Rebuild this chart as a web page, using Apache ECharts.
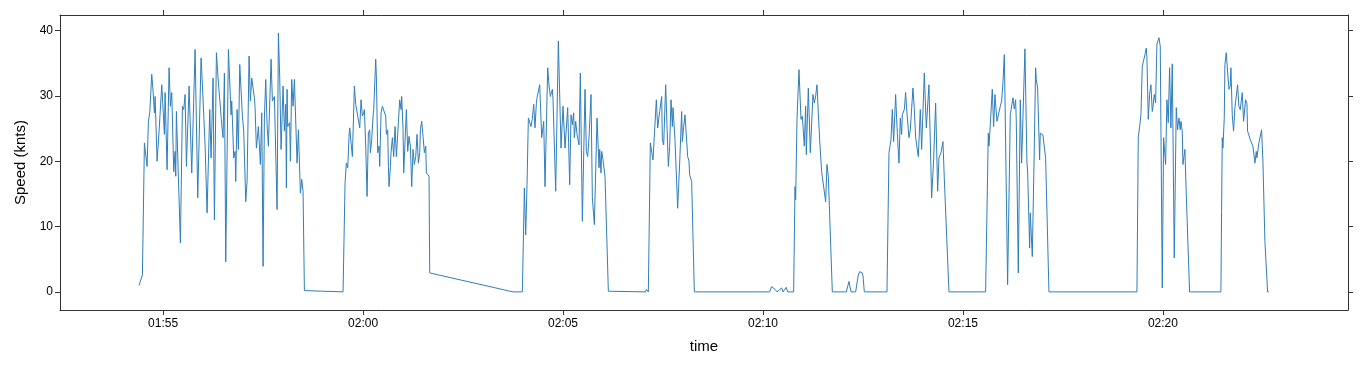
<!DOCTYPE html>
<html lang="en">
<head>
    <meta charset="UTF-8">
    <title>Speed</title>
    <script src="https://cdn.jsdelivr.net/npm/echarts@6/dist/echarts.min.js"></script>
    <style>
        html, body { margin: 0; padding: 0; background: #fff; }
        #chart { width: 1368px; height: 371px; }
    </style>
</head>
<body>
<div id="chart"></div>
<script>
    // time of each sample (hh:mm:ss) and the speed in knots
    var times = [
        // run 1
        '01:54:24','01:54:27','01:54:29','01:54:32','01:54:34','01:54:36','01:54:38','01:54:40','01:54:41','01:54:43',
        '01:54:45','01:54:47','01:54:48','01:54:51','01:54:54','01:54:58','01:55:02','01:55:03','01:55:06','01:55:09',
        '01:55:11','01:55:13','01:55:16','01:55:18','01:55:19','01:55:20','01:55:22','01:55:26','01:55:29','01:55:31',
        '01:55:33','01:55:35','01:55:39','01:55:43','01:55:48','01:55:52','01:55:57','01:55:59','01:56:03','01:56:06',
        '01:56:10','01:56:12','01:56:15','01:56:17','01:56:20','01:56:23','01:56:25','01:56:28','01:56:30','01:56:32',
        '01:56:34','01:56:38','01:56:42','01:56:43','01:56:46','01:56:48','01:56:49','01:56:51','01:56:53','01:56:55',
        '01:56:59','01:57:01','01:57:04','01:57:06','01:57:09','01:57:11','01:57:13','01:57:17','01:57:18','01:57:20',
        '01:57:23','01:57:26','01:57:28','01:57:30','01:57:32','01:57:34','01:57:36','01:57:38','01:57:42','01:57:44',
        '01:57:47','01:57:51','01:57:53','01:57:55','01:57:57','01:58:00','01:58:02','01:58:04','01:58:05','01:58:06',
        '01:58:07','01:58:10','01:58:11','01:58:13','01:58:15','01:58:17','01:58:21','01:58:23','01:58:26','01:58:28',
        '01:58:30','01:58:32','01:59:30',
        // run 2
        '01:59:33','01:59:35','01:59:37','01:59:39','01:59:40','01:59:42','01:59:44','01:59:47','01:59:49','01:59:52',
        '01:59:55','01:59:57','01:59:59','02:00:01','02:00:02','02:00:04','02:00:06','02:00:08','02:00:10','02:00:11',
        '02:00:13','02:00:15','02:00:16','02:00:19','02:00:20','02:00:22','02:00:24','02:00:25','02:00:27','02:00:29',
        '02:00:31','02:00:34','02:00:35','02:00:37','02:00:38','02:00:39','02:00:41','02:00:42','02:00:44','02:00:46',
        '02:00:48','02:00:50','02:00:53','02:00:55','02:00:57','02:00:58','02:01:00','02:01:01','02:01:03','02:01:05',
        '02:01:07','02:01:09','02:01:11','02:01:13','02:01:15','02:01:17','02:01:19','02:01:21','02:01:23','02:01:25',
        '02:01:26','02:01:28','02:01:30','02:01:32','02:01:34','02:01:35','02:01:37','02:01:39','02:01:40','02:03:45',
        '02:03:59',
        // run 3
        '02:04:02','02:04:04','02:04:06','02:04:08','02:04:10','02:04:12','02:04:14','02:04:16','02:04:18','02:04:20',
        '02:04:21','02:04:24','02:04:25','02:04:28','02:04:31','02:04:33','02:04:37','02:04:39','02:04:41','02:04:44',
        '02:04:45','02:04:49','02:04:53','02:04:57','02:05:00','02:05:03','02:05:07','02:05:10','02:05:12','02:05:14',
        '02:05:16','02:05:17','02:05:19','02:05:21','02:05:24','02:05:26','02:05:29','02:05:33','02:05:35','02:05:37',
        '02:05:39','02:05:42','02:05:44','02:05:47','02:05:51','02:05:54','02:05:55','02:05:57','02:05:58','02:06:00',
        '02:06:03','02:06:08','02:07:04','02:07:05','02:07:08',
        // run 4
        '02:07:11','02:07:13','02:07:15','02:07:20','02:07:22','02:07:25','02:07:28','02:07:29','02:07:31','02:07:34',
        '02:07:36','02:07:38','02:07:40','02:07:42','02:07:44','02:07:45','02:07:48','02:07:52','02:07:55','02:07:58',
        '02:07:59','02:08:01','02:08:03','02:08:07','02:08:09','02:08:10','02:08:13','02:08:17',
        '02:09:55','02:09:58','02:10:00','02:10:10','02:10:13','02:10:15','02:10:18','02:10:21','02:10:28','02:10:30',
        '02:10:35','02:10:37','02:10:46',
        // run 5
        '02:10:48','02:10:49','02:10:51','02:10:54','02:10:57','02:10:59','02:11:02','02:11:04','02:11:05','02:11:08',
        '02:11:11','02:11:15','02:11:17','02:11:19','02:11:21','02:11:23','02:11:25','02:11:28','02:11:30','02:11:34',
        '02:11:36','02:11:38','02:11:44',
        '02:12:05','02:12:09','02:12:12','02:12:19','02:12:23','02:12:25','02:12:29','02:12:30','02:12:32','02:12:59',
        '02:13:00','02:13:01','02:13:06',
        // run 6
        '02:13:09','02:13:12','02:13:14','02:13:16','02:13:19','02:13:21','02:13:24','02:13:26','02:13:28','02:13:29',
        '02:13:32','02:13:34','02:13:36','02:13:39','02:13:41','02:13:43','02:13:45','02:13:47','02:13:49','02:13:51',
        '02:13:53','02:13:56','02:13:58','02:14:02','02:14:05','02:14:07','02:14:09','02:14:13','02:14:16','02:14:19',
        '02:14:22','02:14:24','02:14:25','02:14:27','02:14:30','02:14:32','02:14:34','02:14:39','02:15:34',
        // run 7
        '02:15:38','02:15:39','02:15:41','02:15:44','02:15:46','02:15:48','02:15:49','02:15:51','02:15:53','02:15:56',
        '02:15:58','02:16:00','02:16:02','02:16:03','02:16:07','02:16:11','02:16:13','02:16:15','02:16:17','02:16:19',
        '02:16:20','02:16:23','02:16:26','02:16:28','02:16:33','02:16:36','02:16:37','02:16:40','02:16:41','02:16:44',
        '02:16:47','02:16:49','02:16:50','02:16:52','02:16:55','02:16:56','02:16:59','02:17:00','02:17:04','02:17:09',
        '02:19:21',
        // run 8
        '02:19:23','02:19:25','02:19:27','02:19:29','02:19:31','02:19:33','02:19:35','02:19:36','02:19:38','02:19:40',
        '02:19:42','02:19:44','02:19:45','02:19:47','02:19:49','02:19:51','02:19:52','02:19:54','02:19:56','02:19:59',
        '02:20:01','02:20:04','02:20:06','02:20:08','02:20:10','02:20:12','02:20:14','02:20:17','02:20:20','02:20:22',
        '02:20:24','02:20:26','02:20:27','02:20:29','02:20:30','02:20:33','02:20:35','02:20:40','02:21:27',
        // run 9
        '02:21:28','02:21:29','02:21:30','02:21:32','02:21:33','02:21:35','02:21:37','02:21:39','02:21:41','02:21:42',
        '02:21:44','02:21:46','02:21:48','02:21:50','02:21:52','02:21:54','02:21:56','02:21:59','02:22:01','02:22:04',
        '02:22:06','02:22:07','02:22:09','02:22:11','02:22:13','02:22:15','02:22:18','02:22:20','02:22:21','02:22:24',
        '02:22:26','02:22:28','02:22:30','02:22:33','02:22:37','02:22:39'
    ];

    var speeds = [
        // run 1
        1.0, 0.8, 2.6, 22.8, 22.5, 19.2, 26.1, 27.4, 27.1, 33.3,
        30.7, 27.4, 29.9, 20.0, 24.6, 31.7, 24.1, 30.5, 18.7, 34.3,
        28.4, 30.5, 18.4, 21.5, 17.7, 27.6, 20.7, 7.5, 28.4, 27.9,
        30.2, 19.2, 31.5, 18.2, 37.1, 14.4, 35.8, 31.7, 22.5, 12.1,
        27.9, 20.5, 32.7, 11.0, 36.6, 32.0, 31.7, 25.6, 23.6, 33.5,
        4.6, 37.1, 27.1, 29.2, 20.5, 21.5, 16.9, 27.9, 21.8, 34.8,
        26.9, 24.6, 13.8, 16.9, 36.1, 29.2, 32.7, 29.7, 28.2, 22.0,
        25.3, 19.5, 27.4, 3.9, 26.6, 32.5, 25.6, 22.3, 35.6, 29.2,
        29.9, 12.6, 39.6, 32.7, 21.8, 31.5, 24.6, 28.7, 15.9, 31.0,
        25.3, 25.9, 20.0, 32.5, 28.4, 32.5, 19.7, 24.8, 15.1, 17.2,
        15.4, 0.2, 0.0,
        // run 2
        16.7, 19.7, 19.0, 23.8, 25.1, 22.8, 20.7, 31.5, 28.7, 26.9,
        25.1, 29.4, 26.9, 27.4, 27.9, 22.3, 14.6, 24.3, 24.8, 21.3,
        23.3, 26.9, 27.9, 35.6, 33.0, 21.3, 22.3, 19.2, 27.4, 28.4,
        28.2, 26.9, 24.1, 24.8, 19.2, 16.1, 19.2, 21.3, 23.6, 20.7,
        25.3, 20.7, 25.9, 29.4, 27.9, 29.9, 24.8, 18.2, 23.0, 27.9,
        21.5, 23.8, 22.3, 16.1, 21.8, 19.5, 20.7, 24.1, 19.7, 21.3,
        24.8, 26.1, 23.8, 21.3, 22.3, 18.2, 18.2, 17.7, 2.9, 0.0,
        0.0,
        // run 3
        15.9, 8.7, 16.4, 26.6, 26.9, 25.3, 26.6, 28.7, 25.1, 28.9,
        29.7, 29.9, 31.7, 23.6, 26.1, 16.1, 34.3, 31.5, 29.9, 31.0,
        29.4, 15.4, 38.4, 22.0, 28.4, 22.0, 28.2, 16.4, 27.1, 25.6,
        27.4, 23.6, 26.1, 24.1, 22.5, 33.5, 10.8, 31.0, 21.5, 20.7,
        23.6, 30.2, 14.4, 10.3, 26.6, 19.0, 21.8, 18.2, 21.5, 20.2,
        17.7, 0.1, 0.0, 0.4, 0.0,
        // run 4
        22.8, 23.0, 20.2, 29.4, 25.1, 27.6, 29.9, 23.3, 22.5, 31.7,
        25.3, 19.2, 22.3, 29.4, 25.3, 28.2, 23.3, 12.8, 19.7, 27.6,
        23.0, 25.3, 27.1, 20.7, 20.0, 17.9, 16.9, 0.0,
        0.0, 0.3, 0.0, 0.0, 0.8, 0.9, 0.4, 0.0, 0.6, 0.0,
        0.7, 0.0, 0.0,
        // run 5
        16.1, 14.1, 26.4, 34.0, 26.4, 26.9, 22.3, 28.4, 21.0, 31.2,
        21.3, 30.2, 28.9, 30.0, 31.7, 27.4, 23.3, 18.4, 18.2, 13.8,
        19.5, 17.7, 0.0,
        0.0, 1.6, 0.0, 0.0, 2.6, 3.1, 2.9, 2.5, 0.0, 0.0,
        0.15, 0.0, 0.0,
        // run 6
        21.3, 23.3, 27.9, 23.0, 30.2, 25.3, 19.7, 26.6, 24.1, 27.1,
        27.9, 30.5, 27.4, 23.6, 24.8, 25.0, 31.2, 28.0, 23.6, 23.6,
        20.7, 27.9, 21.8, 33.5, 25.1, 25.3, 31.7, 14.4, 20.2, 28.9,
        15.4, 20.5, 20.6, 21.3, 23.0, 17.4, 17.2, 0.0, 0.0,
        // run 7
        24.3, 22.3, 25.6, 31.0, 25.3, 30.2, 28.8, 26.1, 26.3, 28.4,
        29.2, 32.0, 36.3, 30.0, 1.1, 27.1, 27.0, 29.7, 28.0, 29.4,
        26.1, 2.9, 29.4, 19.7, 37.2, 19.7, 18.5, 6.7, 12.1, 5.4,
        22.0, 34.3, 32.5, 31.2, 20.2, 24.3, 24.6, 24.0, 20.5, 0.0,
        0.0,
        // run 8
        23.6, 25.3, 27.1, 34.5, 34.8, 36.3, 37.3, 35.8, 26.4, 30.2,
        31.7, 27.6, 28.3, 30.2, 28.9, 37.9, 38.0, 38.9, 37.6, 0.6,
        23.6, 19.5, 29.4, 25.9, 34.3, 25.1, 34.9, 5.2, 28.2, 24.8,
        26.6, 24.8, 26.1, 24.6, 19.5, 21.8, 15.0, 0.0, 0.0,
        // run 9
        12.3, 23.6, 22.0, 26.6, 34.8, 36.6, 36.9, 31.0, 31.5, 34.3,
        27.1, 24.6, 28.2, 28.5, 31.7, 28.4, 27.9, 30.5, 26.1, 29.4,
        28.8, 24.6, 24.8, 23.3, 23.5, 22.3, 19.7, 21.5, 20.5, 22.8,
        22.5, 24.8, 20.0, 7.7, 0.0, 0.0
    ];

    var xTickLabels = ['01:55', '02:00', '02:05', '02:10', '02:15', '02:20'];
    var yTicks = [0, 10, 20, 30, 40];

    if (times.length !== speeds.length) {
        throw new Error('times/speeds length mismatch: ' + times.length + ' vs ' + speeds.length);
    }

    function toSec(str) {
        var p = str.split(':');
        return (+p[0]) * 3600 + (+p[1]) * 60 + (+(p[2] || 0));
    }
    function pad2(n) { return (n < 10 ? '0' : '') + n; }
    function hhmm(v) {
        var h = Math.floor(v / 3600);
        var m = Math.round((v - h * 3600) / 60);
        return pad2(h) + ':' + pad2(m);
    }

    var points = times.map(function (t, i) { return [toSec(t), speeds[i]]; });
    var xTicks = xTickLabels.map(toSec);

    // lattice style padding of the ranges (7%)
    var xs = points.map(function (p) { return p[0]; });
    var x0 = Math.min.apply(null, xs), x1 = Math.max.apply(null, xs);
    var y0 = Math.min.apply(null, speeds), y1 = Math.max.apply(null, speeds);
    var xMin = x0 - 0.07 * (x1 - x0), xMax = x1 + 0.07 * (x1 - x0);
    var yMin = y0 - 0.07 * (y1 - y0), yMax = y1 + 0.07 * (y1 - y0);

    var font = 'Liberation Sans, Arial, sans-serif';
    var frame = { show: true, onZero: false, lineStyle: { color: '#333', width: 1 } };
    var tick = { show: true, inside: false, length: 5, lineStyle: { color: '#333' } };

    var myChart = echarts.init(document.getElementById('chart'));
    myChart.setOption({
        animation: false,
        backgroundColor: '#fff',
        textStyle: { fontFamily: font },
        grid: { left: 60, right: 20, top: 15, bottom: 61, containLabel: false, outerBoundsMode: 'none' },
        xAxis: [{
            type: 'value',
            position: 'bottom',
            min: xMin,
            max: xMax,
            axisLine: frame,
            axisTick: Object.assign({ customValues: xTicks }, tick),
            axisLabel: {
                customValues: xTicks,
                formatter: hhmm,
                color: '#000',
                fontSize: 12,
                fontFamily: font,
                margin: 8
            },
            splitLine: { show: false },
            name: 'time',
            nameLocation: 'middle',
            nameGap: 29,
            nameTextStyle: { color: '#000', fontSize: 15, fontFamily: font }
        }, {
            type: 'value',
            position: 'top',
            min: xMin,
            max: xMax,
            axisLine: frame,
            axisTick: Object.assign({ customValues: xTicks }, tick),
            axisLabel: { show: false },
            splitLine: { show: false }
        }],
        yAxis: [{
            type: 'value',
            position: 'left',
            min: yMin,
            max: yMax,
            axisLine: frame,
            axisTick: Object.assign({ customValues: yTicks }, tick),
            axisLabel: {
                customValues: yTicks,
                color: '#000',
                fontSize: 12,
                fontFamily: font,
                margin: 7
            },
            splitLine: { show: false },
            name: 'Speed (knts)',
            nameLocation: 'middle',
            nameGap: 32,
            nameTextStyle: { color: '#000', fontSize: 15, fontFamily: font }
        }, {
            type: 'value',
            position: 'right',
            min: yMin,
            max: yMax,
            axisLine: frame,
            axisTick: Object.assign({ customValues: yTicks }, tick),
            axisLabel: { show: false },
            splitLine: { show: false }
        }],
        series: [{
            name: 'speed',
            type: 'line',
            xAxisIndex: 0,
            yAxisIndex: 0,
            data: points,
            showSymbol: false,
            symbol: 'none',
            smooth: false,
            lineStyle: { color: '#2f7ebc', width: 1 }
        }]
    });
</script>
</body>
</html>
